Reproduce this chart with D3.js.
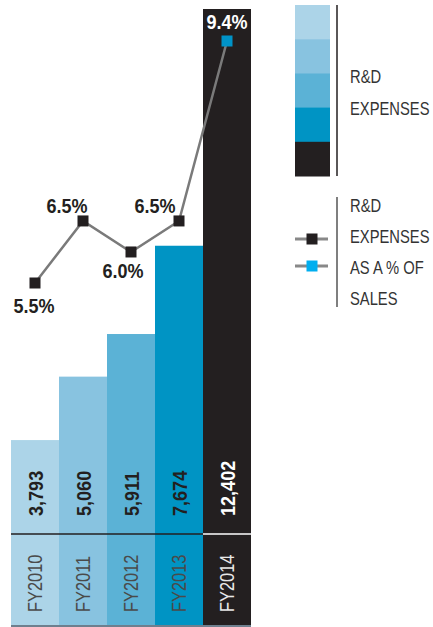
<!DOCTYPE html>
<html><head><meta charset="utf-8">
<script src="https://cdn.jsdelivr.net/npm/d3@7"></script>
<style>body{margin:0;background:#fff}svg{display:block}</style>
</head><body><svg id="c" width="433" height="627"></svg>
<script>
const years = ["FY2010","FY2011","FY2012","FY2013","FY2014"];
const rdExpenses = [3793,5060,5911,7674,12402];
const rdPercent = [5.5,6.5,6.0,6.5,9.4];
const expenseLabels = ["3,793","5,060","5,911","7,674","12,402"];
const percentLabels = ["5.5%","6.5%","6.0%","6.5%","9.4%"];
const legendBarTitle = ["R&D","EXPENSES"];
const legendLineTitle = ["R&D","EXPENSES","AS A % OF","SALES"];

// styles / layout
const barColors = ["#acd4e8","#88c3e0","#5bb2d6","#0094c4","#231f20"];
const labelDx = [-1,-16,-8,-24,0];
const labelDy = [23,-15,19,-15,-19];
const FONT = "'Liberation Sans',Arial,sans-serif";

const svg = d3.select("#c");
const x = d3.scaleBand().domain(years).range([11,251]).padding(0);
const y = d3.scaleLinear().domain([0, d3.max(rdExpenses)]).range([630, 9]);
const yp = d3.scaleLinear().domain([5.5, 9.4]).range([283, 41]);
const baseY = 625;
const cx = d => x(d) + x.bandwidth()/2;

// bars
svg.append("g").selectAll("rect").data(years).join("rect")
  .attr("x", d => x(d)).attr("width", x.bandwidth())
  .attr("y", (d,i) => y(rdExpenses[i]))
  .attr("height", (d,i) => baseY - y(rdExpenses[i]))
  .attr("fill", (d,i) => barColors[i]);

svg.append("rect").attr("x", x.range()[0]).attr("width", x.range()[1]-x.range()[0])
  .attr("y", baseY).attr("height", 2).attr("fill", "#6e7f8e");

// separator lines
svg.append("g").selectAll("line").data(years).join("line")
  .attr("x1", d => x(d)).attr("x2", d => x(d)+x.bandwidth())
  .attr("y1", 534).attr("y2", 534)
  .attr("stroke", (d,i) => i === years.length-1 ? "#ffffff" : "#231f20")
  .attr("stroke-width", 1.5);

// value labels (condensed)
svg.append("g").selectAll("text").data(years).join("text")
  .attr("transform", d => `translate(${cx(d)},516) rotate(-90) scale(0.86,1)`)
  .attr("text-anchor","start").attr("dominant-baseline","central")
  .style("font-family", FONT).style("font-weight","bold").style("font-size","21px")
  .attr("fill", (d,i) => i === years.length-1 ? "#ffffff" : "#231f20")
  .text((d,i) => expenseLabels[i]);

// year labels
svg.append("g").selectAll("text").data(years).join("text")
  .attr("transform", d => `translate(${cx(d)},612) rotate(-90) scale(0.82,1)`)
  .attr("text-anchor","start").attr("dominant-baseline","central")
  .style("font-family", FONT).style("font-size","20px")
  .attr("fill", (d,i) => i === years.length-1 ? "#e8e8e8" : "#4a4a4a")
  .text(d => d);

// line
const line = d3.line().x((d,i) => cx(years[i])).y(d => yp(d));
svg.append("path").datum(rdPercent).attr("d", line)
  .attr("fill","none").attr("stroke","#7a7a7a").attr("stroke-width",2.5);

svg.append("g").selectAll("rect").data(rdPercent).join("rect")
  .attr("x", (d,i) => cx(years[i]) - 5.5).attr("y", d => yp(d) - 5.5)
  .attr("width", 11).attr("height", 11)
  .attr("fill", (d,i) => i === years.length-1 ? "#0093c8" : "#231f20");

svg.append("g").selectAll("text").data(rdPercent).join("text")
  .attr("transform", (d,i) => `translate(${cx(years[i]) + labelDx[i]},${yp(d) + labelDy[i]}) scale(0.9,1)`)
  .attr("text-anchor","middle").attr("dominant-baseline","central")
  .style("font-family", FONT).style("font-weight","bold").style("font-size","20px")
  .attr("fill", (d,i) => i === years.length-1 ? "#ffffff" : "#231f20")
  .text((d,i) => percentLabels[i]);

// legend 1
const lg = svg.append("g");
const sw = d3.scaleBand().domain(years).range([5,176]);
lg.selectAll("rect").data(years).join("rect")
  .attr("x", 295).attr("width", 35)
  .attr("y", d => sw(d)).attr("height", sw.bandwidth()+0.5)
  .attr("fill", (d,i) => barColors[i]);
lg.append("line").attr("x1",337).attr("x2",337).attr("y1",5).attr("y2",176)
  .attr("stroke","#231f20").attr("stroke-width",1.5);
lg.selectAll("text").data(legendBarTitle).join("text")
  .attr("transform", (d,i) => `translate(350,${83 + i*32}) scale(0.82,1)`)
  .style("font-family", FONT).style("font-size","18px").attr("fill","#333")
  .text(d => d);

// legend 2
const lg2 = svg.append("g");
lg2.append("line").attr("x1",337).attr("x2",337).attr("y1",197).attr("y2",307)
  .attr("stroke","#555").attr("stroke-width",1.5);
lg2.selectAll("text").data(legendLineTitle).join("text")
  .attr("transform", (d,i) => `translate(350,${212 + i*31}) scale(0.82,1)`)
  .style("font-family", FONT).style("font-size","18px").attr("fill","#333")
  .text(d => d);
const markColors = ["#231f20","#00aeef"];
[239, 266].forEach((yy, i) => {
  lg2.append("line").attr("x1",295).attr("x2",328).attr("y1",yy).attr("y2",yy)
    .attr("stroke","#888").attr("stroke-width",3);
  lg2.append("rect").attr("x",312-5.5).attr("y",yy-5.5).attr("width",11).attr("height",11)
    .attr("fill", markColors[i]);
});
</script></body></html>
